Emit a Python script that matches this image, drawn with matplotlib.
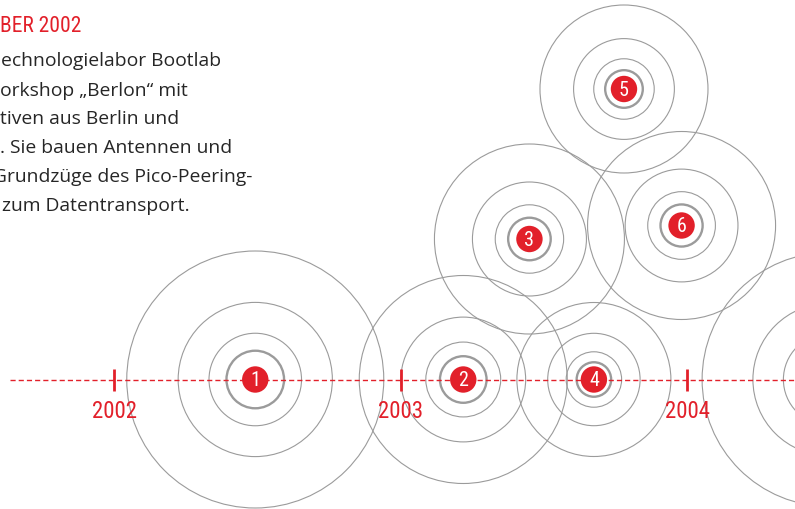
import matplotlib
matplotlib.use('Agg')
import matplotlib.pyplot as plt
from matplotlib.patches import Circle
from matplotlib import font_manager as fm

# ---------------- data ----------------
years = [2002, 2003, 2004]
year_labels = ['2002', '2003', '2004']
event_labels = ['1', '2', '3', '4', '5', '6', '7']
event_dates = [2002.492, 2003.218, 2003.449, 2003.674, 2003.779, 2003.980, 2004.495]
event_lift = [0, 0, 140.5, 0, 290.5, 154, 0]        # height above the timeline
event_reach = [128.5, 104, 95, 77, 84, 94, 127]      # radius of outermost ring
ring_fractions = [0.224, 0.36, 0.60, 1.0]            # rings relative to reach
title_text = 'BER 2002'
body_lines = ['echnologielabor Bootlab',
              'orkshop \u201eBerlon\u201c mit',
              'tiven aus Berlin und',
              '. Sie bauen Antennen und',
              'Grundz\u00fcge des Pico-Peering-',
              'zum Datentransport.']
body_x = [1, 0, 0, 0, -7, 2]

# ---------------- style ----------------
RED = '#e2202a'
GRAY = '#9b9b9b'
TEXT = '#262626'
X0, PX_PER_YEAR, TL_Y = 114.3, 286.5, 380.5

names = {f.name for f in fm.fontManager.ttflist}
cond_family, cond_stretch = 'DejaVu Sans', 'condensed'
for cand in ['Roboto Condensed', 'Liberation Sans Narrow', 'Open Sans Condensed',
             'DejaVu Sans Condensed', 'Noto Sans Condensed']:
    if cand in names:
        cond_family, cond_stretch = cand, 'normal'
        break
body_family = 'Open Sans' if 'Open Sans' in names else 'DejaVu Sans'


def yx(year):
    return X0 + (year - 2002) * PX_PER_YEAR


fig = plt.figure(figsize=(7.95, 5.10), dpi=100)
ax = fig.add_axes([0, 0, 1, 1])
ax.set_xlim(0, 795)
ax.set_ylim(510, 0)
ax.axis('off')

# timeline
ax.plot([10, 795], [TL_Y, TL_Y], color=RED, lw=1.0, ls=(0, (3.7, 2.2)), zorder=3)
for yr, lab in zip(years, year_labels):
    x = yx(yr)
    ax.plot([x, x], [TL_Y - 11, TL_Y + 11], color=RED, lw=2.0, solid_capstyle='butt', zorder=3)
    ax.text(x, TL_Y + 38, lab, color=RED, fontsize=16.5, family=cond_family,
            fontstretch=cond_stretch, ha='center', va='baseline', zorder=4)

# events
for lab, d, lift, reach in zip(event_labels, event_dates, event_lift, event_reach):
    cx, cy = yx(d), TL_Y - lift
    for i, f in enumerate(ring_fractions):
        ax.add_patch(Circle((cx, cy), reach * f, fill=False, ec=GRAY,
                            lw=1.7 if i == 0 else 0.8, zorder=2))
    ax.add_patch(Circle((cx, cy), 13.2, fc=RED, ec='none', zorder=5))
    ax.text(cx, cy + 0.5, lab, color='white', fontsize=14.5, family=cond_family,
            fontstretch=cond_stretch, ha='center', va='center', zorder=6)

# text block
ax.text(0, 32, title_text, color=RED, fontsize=15.5, family=cond_family,
        fontstretch=cond_stretch, ha='left', va='baseline')
for i, (line, bx) in enumerate(zip(body_lines, body_x)):
    ax.text(bx, 66.5 + 29 * i, line, color=TEXT, fontsize=13.9, family=body_family,
            ha='left', va='baseline')

fig.savefig('out.png', dpi=100)
